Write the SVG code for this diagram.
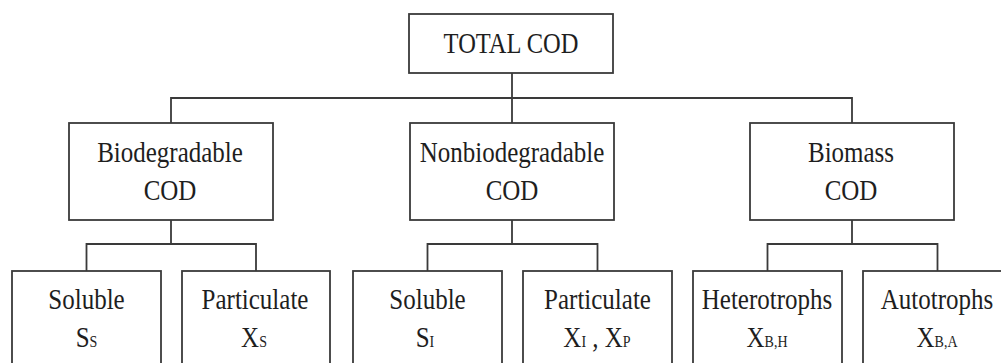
<svg xmlns="http://www.w3.org/2000/svg" width="1001" height="363" viewBox="0 0 1001 363">
<style>
.box{fill:#fff;stroke:#3a3a3a;stroke-width:1.8}
.ln{fill:none;stroke:#3a3a3a;stroke-width:1.8}
.t{font-family:'Liberation Serif','Times New Roman','DejaVu Serif',serif;font-size:25px;fill:#1e1e1e;text-anchor:middle}
.sub{font-size:14px}
</style>
<rect width="1001" height="363" fill="#fff"/>
<g id="connectors">
<path class="ln" d="M512 73V123M171 123V98H852V123"/>
<path class="ln" d="M171 220V244M86.5 271V244H256V271"/>
<path class="ln" d="M512 220V244M427.5 271V244H597.5V271"/>
<path class="ln" d="M852 220V244M767.5 271V244H937.5V271"/>
</g>
<g id="total">
<rect class="box" x="409" y="14" width="204" height="59"/>
<text class="t" font-family="Liberation Serif, serif" transform="translate(511,53) scale(1,1.2)" style="font-size:24.5px">TOTAL COD</text>
</g>
<g id="biodegradable">
<rect class="box" x="69" y="123" width="204" height="97"/>
<text class="t" transform="translate(170,162) scale(1,1.17)">Biodegradable</text>
<text class="t" transform="translate(170,200) scale(1,1.17)">COD</text>
</g>
<g id="nonbiodegradable">
<rect class="box" x="410" y="123" width="204" height="97"/>
<text class="t" transform="translate(512,162) scale(1,1.17)">Nonbiodegradable</text>
<text class="t" transform="translate(512,200) scale(1,1.17)">COD</text>
</g>
<g id="biomass">
<rect class="box" x="750" y="123" width="204" height="97"/>
<text class="t" transform="translate(851,162) scale(1,1.17)">Biomass</text>
<text class="t" transform="translate(851,200) scale(1,1.17)">COD</text>
</g>
<g id="soluble-bio">
<rect class="box" x="12" y="271" width="149" height="100"/>
<text class="t" transform="translate(86.5,309) scale(1,1.17)">Soluble</text>
<text class="t" transform="translate(86.5,347) scale(1,1.17)">S<tspan class="sub">S</tspan></text>
</g>
<g id="particulate-bio">
<rect class="box" x="182" y="271" width="148" height="100"/>
<text class="t" transform="translate(255,309) scale(1,1.17)">Particulate</text>
<text class="t" transform="translate(254,347) scale(1,1.17)">X<tspan class="sub">S</tspan></text>
</g>
<g id="soluble-nonbio">
<rect class="box" x="353" y="271" width="149" height="100"/>
<text class="t" transform="translate(427.5,309) scale(1,1.17)">Soluble</text>
<text class="t" transform="translate(425,347) scale(1,1.17)">S<tspan class="sub">I</tspan></text>
</g>
<g id="particulate-nonbio">
<rect class="box" x="523" y="271" width="149" height="100"/>
<text class="t" transform="translate(597.5,309) scale(1,1.17)">Particulate</text>
<text class="t" transform="translate(597,347) scale(1,1.17)">X<tspan class="sub">I</tspan> , X<tspan class="sub">P</tspan></text>
</g>
<g id="heterotrophs">
<rect class="box" x="693" y="271" width="149" height="100"/>
<text class="t" transform="translate(767,309) scale(1,1.17)">Heterotrophs</text>
<text class="t" transform="translate(767,347) scale(1,1.17)">X<tspan class="sub">B,H</tspan></text>
</g>
<g id="autotrophs">
<rect class="box" x="863" y="271" width="149" height="100"/>
<text class="t" transform="translate(937,309) scale(1,1.17)">Autotrophs</text>
<text class="t" transform="translate(937,347) scale(1,1.17)">X<tspan class="sub">B,A</tspan></text>
</g>
</svg>
